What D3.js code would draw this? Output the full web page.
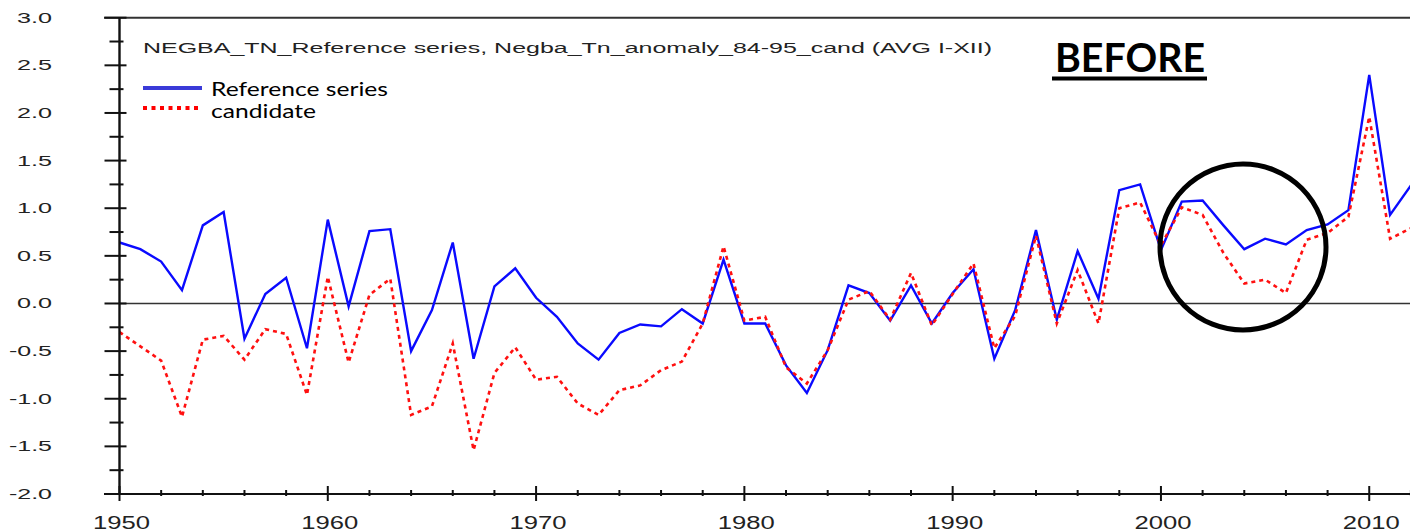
<!DOCTYPE html>
<html><head><meta charset="utf-8">
<script src="https://cdn.jsdelivr.net/npm/d3@7"></script>
<style>body{margin:0;background:#fff}svg{display:block}</style>
</head><body>
<svg id="c" width="1410" height="532"></svg>
<script>
const years = d3.range(1950, 2013);
const referenceSeries = [0.64,0.57,0.44,0.14,0.82,0.96,-0.37,0.10,0.27,-0.47,
 0.88,-0.03,0.76,0.78,-0.50,-0.07,0.64,-0.58,0.18,0.37,
 0.06,-0.14,-0.42,-0.59,-0.31,-0.22,-0.24,-0.06,-0.21,0.46,
 -0.21,-0.21,-0.65,-0.94,-0.49,0.19,0.11,-0.18,0.19,-0.21,
 0.11,0.36,-0.58,-0.07,0.77,-0.17,0.55,0.05,1.19,1.25,
 0.56,1.07,1.08,0.82,0.57,0.68,0.62,0.77,0.83,0.98,
 2.40,0.93,1.24];
const candidate = [-0.30,-0.45,-0.60,-1.19,-0.38,-0.34,-0.59,-0.27,-0.32,-0.96,
 0.28,-0.62,0.09,0.26,-1.17,-1.08,-0.42,-1.54,-0.73,-0.46,
 -0.80,-0.77,-1.05,-1.17,-0.91,-0.86,-0.70,-0.61,-0.21,0.60,
 -0.18,-0.14,-0.67,-0.84,-0.49,0.04,0.13,-0.17,0.32,-0.23,
 0.10,0.42,-0.47,-0.13,0.71,-0.21,0.35,-0.21,1.00,1.06,
 0.61,1.01,0.93,0.53,0.21,0.25,0.11,0.67,0.74,0.91,
 1.96,0.68,0.79];
const yMajorTicks = [3.0,2.5,2.0,1.5,1.0,0.5,0.0,-0.5,-1.0,-1.5,-2.0];
const yMinorTicks = [2.75,2.25,1.75,1.25,0.75,0.25,-0.25,-0.75,-1.25,-1.75];
const xMajorTicks = [1950,1960,1970,1980,1990,2000,2010];
const xMinorTicks = d3.range(1952, 2013, 2).filter(v => v % 10 !== 0);
const titleText = "NEGBA_TN_Reference series, Negba_Tn_anomaly_84-95_cand (AVG I-XII)";
const legendLabels = ["Reference series", "candidate"];
const stampText = "BEFORE";

const svg = d3.select("#c");
const x = d3.scaleLinear().domain([1950, 2012]).range([119.5, 1410.9]);
const y = d3.scaleLinear().domain([-2, 3]).range([494, 17.7]);
const axisCol = "#111";

// top border
svg.append("line").attr("x1", 104).attr("x2", 1410).attr("y1", y(3)).attr("y2", y(3))
  .attr("stroke", "#333").attr("stroke-width", 2);
// zero line
svg.append("line").attr("x1", x(1950)).attr("x2", 1410).attr("y1", y(0)).attr("y2", y(0))
  .attr("stroke", "#333").attr("stroke-width", 1.6);

// data lines
const line = d3.line().x((d, i) => x(years[i])).y(d => y(d));
svg.append("path").datum(referenceSeries).attr("d", line)
  .attr("fill", "none").attr("stroke", "#0a0aff").attr("stroke-width", 2.4)
  .attr("stroke-linejoin", "miter");
svg.append("path").datum(candidate).attr("d", line)
  .attr("fill", "none").attr("stroke", "#ff1010").attr("stroke-width", 2.6)
  .attr("stroke-dasharray", "4,4");

// axes
svg.append("line").attr("x1", x(1950)).attr("x2", x(1950)).attr("y1", y(3)).attr("y2", y(-2))
  .attr("stroke", axisCol).attr("stroke-width", 2.4);
svg.append("line").attr("x1", 104).attr("x2", 1410).attr("y1", y(-2)).attr("y2", y(-2))
  .attr("stroke", axisCol).attr("stroke-width", 2);

svg.selectAll(".ymaj").data(yMajorTicks).join("line")
  .attr("x1", x(1950) - 15).attr("x2", x(1950) + 7)
  .attr("y1", d => y(d)).attr("y2", d => y(d))
  .attr("stroke", axisCol).attr("stroke-width", 2);
svg.selectAll(".ymin").data(yMinorTicks).join("line")
  .attr("x1", x(1950) - 10).attr("x2", x(1950) + 4)
  .attr("y1", d => y(d)).attr("y2", d => y(d))
  .attr("stroke", axisCol).attr("stroke-width", 2);
svg.selectAll(".xmaj").data(xMajorTicks).join("line")
  .attr("x1", d => x(d)).attr("x2", d => x(d))
  .attr("y1", y(-2) - 8).attr("y2", y(-2) + 7)
  .attr("stroke", axisCol).attr("stroke-width", 2);
svg.selectAll(".xmin").data(xMinorTicks).join("line")
  .attr("x1", d => x(d)).attr("x2", d => x(d))
  .attr("y1", y(-2) - 4).attr("y2", y(-2) + 2)
  .attr("stroke", axisCol).attr("stroke-width", 2);

// tick labels
svg.selectAll(".ylab").data(yMajorTicks).join("text")
  .attr("x", 52).attr("y", d => y(d) + 5)
  .attr("text-anchor", "end")
  .attr("font-family", "Liberation Sans, Arial, sans-serif").attr("font-size", 14)
  .attr("fill", "#222")
  .attr("textLength", d => d < 0 ? 43 : 35).attr("lengthAdjust", "spacingAndGlyphs")
  .text(d => d.toFixed(1));
svg.selectAll(".xlab").data(xMajorTicks).join("text")
  .attr("x", d => x(d) + 2).attr("y", 529)
  .attr("text-anchor", "middle")
  .attr("font-family", "Liberation Sans, Arial, sans-serif").attr("font-size", 18)
  .attr("fill", "#222")
  .attr("textLength", 57).attr("lengthAdjust", "spacingAndGlyphs")
  .text(d => d);

// title
svg.append("text").attr("x", 143).attr("y", 53)
  .attr("font-family", "Liberation Sans, Arial, sans-serif").attr("font-size", 14)
  .attr("fill", "#222")
  .attr("textLength", 849).attr("lengthAdjust", "spacingAndGlyphs")
  .text(titleText);

// legend
svg.append("line").attr("x1", 143).attr("x2", 202).attr("y1", 88).attr("y2", 88)
  .attr("stroke", "#3a3ad8").attr("stroke-width", 4);
svg.append("line").attr("x1", 143).attr("x2", 202).attr("y1", 108).attr("y2", 108)
  .attr("stroke", "#ff0000").attr("stroke-width", 4).attr("stroke-dasharray", "4,4.5");
svg.append("text").attr("x", 211).attr("y", 95.5)
  .attr("font-family", "Lato, Open Sans, sans-serif").attr("font-size", 18.5).attr("fill", "#000")
  .attr("textLength", 177).attr("lengthAdjust", "spacingAndGlyphs")
  .text(legendLabels[0]);
svg.append("text").attr("x", 211).attr("y", 118)
  .attr("font-family", "Lato, Open Sans, sans-serif").attr("font-size", 18.5).attr("fill", "#000")
  .attr("textLength", 105).attr("lengthAdjust", "spacingAndGlyphs")
  .text(legendLabels[1]);

// BEFORE stamp
svg.append("text").attr("x", 1055).attr("y", 72)
  .attr("font-family", "Lato, Open Sans, sans-serif").attr("font-weight", "bold")
  .attr("font-size", 41).attr("fill", "#000")
  .attr("textLength", 150).attr("lengthAdjust", "spacingAndGlyphs")
  .text(stampText);
svg.append("rect").attr("x", 1052).attr("y", 76.5).attr("width", 155).attr("height", 4).attr("fill", "#000");

// circle highlight
svg.append("circle").attr("cx", 1243).attr("cy", 247).attr("r", 83)
  .attr("fill", "none").attr("stroke", "#000").attr("stroke-width", 5);
</script>
</body></html>
